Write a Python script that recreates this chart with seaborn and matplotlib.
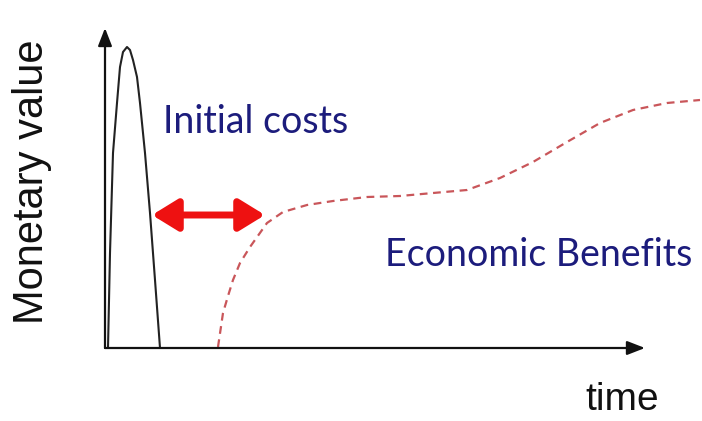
import numpy as np
import pandas as pd
import matplotlib
matplotlib.use("Agg")
import matplotlib.pyplot as plt
import seaborn as sns

# values (x = time, y = monetary value, arbitrary units)
cost_x = [3, 5, 8, 12, 15, 18, 22, 25, 28, 32, 35, 40, 45, 50, 55]
cost_y = [0, 95, 195, 245, 281, 296, 301, 298, 288, 271, 245, 195, 135, 68, 0]

benefit_x = [113, 118, 123, 128, 135, 145, 162, 178, 202, 228, 262, 295,
             328, 362, 395, 428, 462, 495, 528, 562, 595]
benefit_y = [1, 35, 52, 68, 85, 101, 125, 136, 143, 147, 151, 152,
             155, 158, 170, 186, 206, 225, 238, 245, 248]

gap_x = [47, 160]
gap_y = 133

x_axis_end = 540
y_axis_end = 320

sns.set_theme(style="white")
plt.rcParams['font.family'] = ['Liberation Sans', 'DejaVu Sans']

fig = plt.figure(figsize=(7.02, 4.21), dpi=100)
ax = fig.add_axes([0, 0, 1, 1])

costs = pd.DataFrame({"time": cost_x, "value": cost_y})
benefits = pd.DataFrame({"time": benefit_x, "value": benefit_y})

sns.lineplot(data=costs, x="time", y="value", ax=ax, color="#222222", lw=1.5,
             estimator=None, sort=False)
sns.lineplot(data=benefits, x="time", y="value", ax=ax, color="#c9565a", lw=1.6,
             estimator=None, sort=False, dashes=False, linestyle=(0, (3.5, 2.5)))

# axes with arrow heads
ax.annotate("", xy=(x_axis_end, 0), xytext=(0, 0),
            arrowprops=dict(arrowstyle="-|>,head_length=0.9,head_width=0.35",
                            color="#111111", lw=1.6, shrinkA=0, shrinkB=0))
ax.annotate("", xy=(0, y_axis_end), xytext=(0, 0),
            arrowprops=dict(arrowstyle="-|>,head_length=0.9,head_width=0.35",
                            color="#111111", lw=1.6, shrinkA=0, shrinkB=0))

# red double arrow between cost and benefit
ax.annotate("", xy=(gap_x[1], gap_y), xytext=(gap_x[0], gap_y),
            arrowprops=dict(arrowstyle="<|-|>,head_length=1.3,head_width=0.8",
                            color="#ee1111", lw=5, shrinkA=0, shrinkB=0))

ax.text(58, 226, "Initial costs", color="#1c1c7c", fontsize=27,
        family=["Lato", "DejaVu Sans"], va="center", ha="left")
ax.text(280, 93, "Economic Benefits", color="#1c1c7c", fontsize=27,
        family=["Lato", "DejaVu Sans"], va="center", ha="left")
ax.text(480, -52, "time", color="#111111", fontsize=28, va="center", ha="left")
ax.text(-73, 166, "Monetary value", color="#111111", fontsize=30,
        rotation=90, va="center", ha="center")

ax.set_xlim(-105, 597)
ax.set_ylim(-73, 348)
ax.axis("off")

fig.savefig("out.png", dpi=100)
